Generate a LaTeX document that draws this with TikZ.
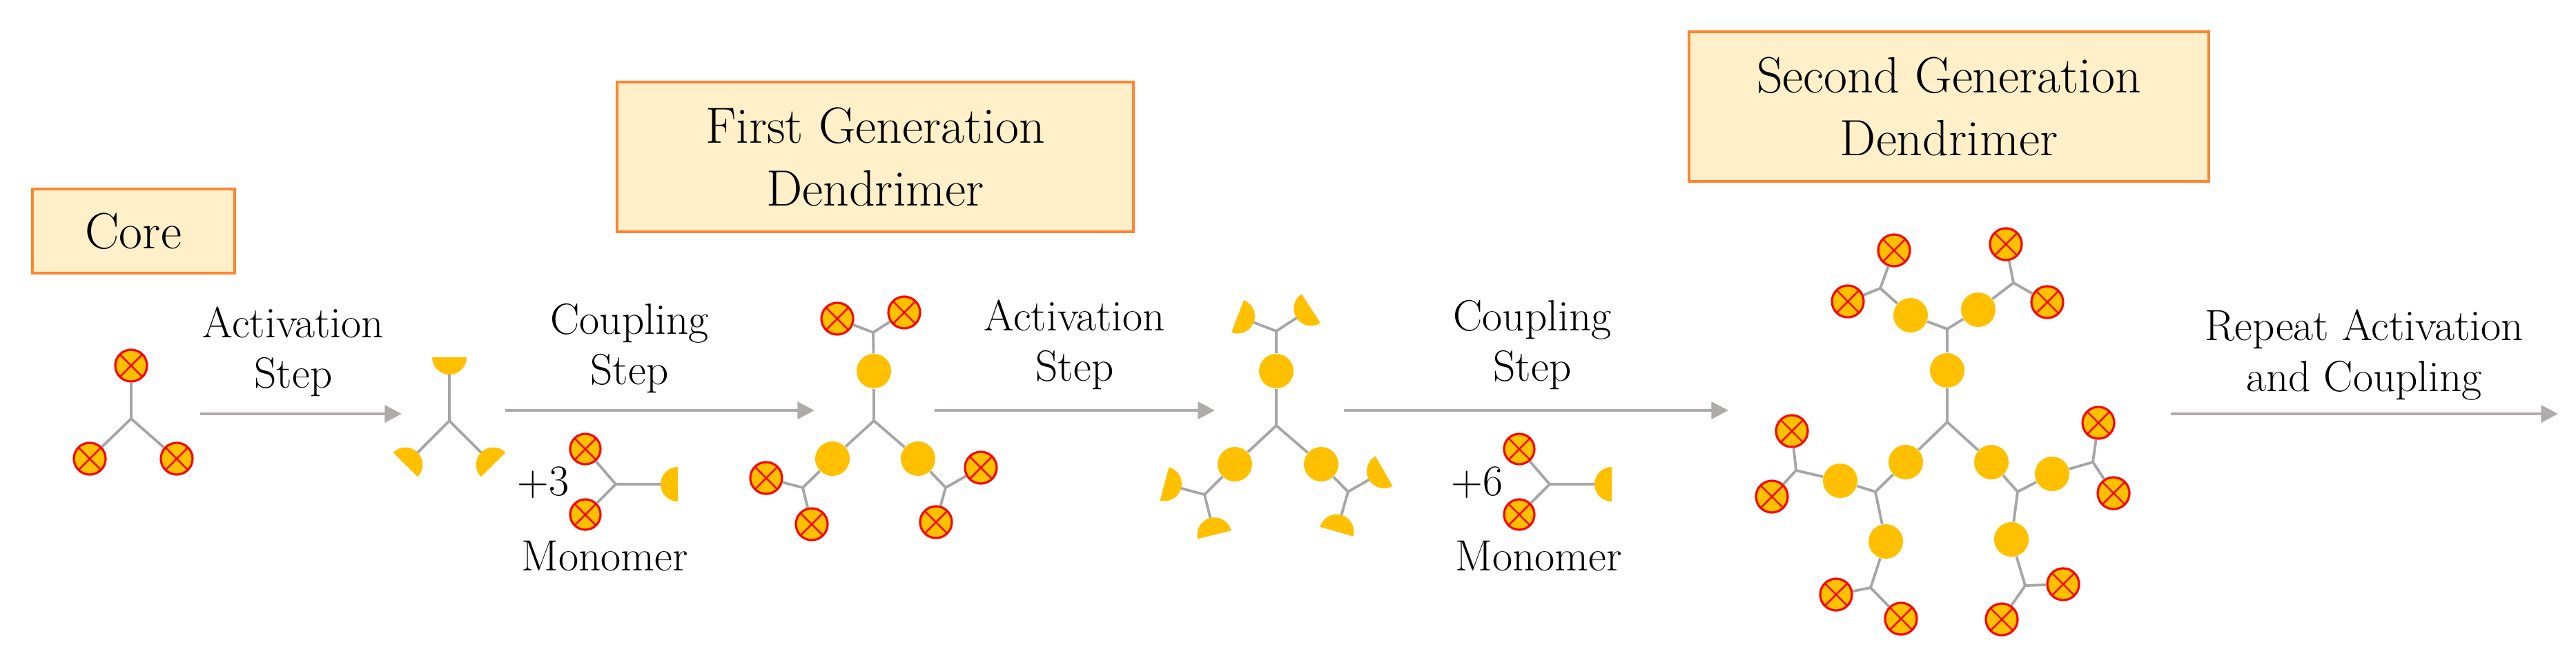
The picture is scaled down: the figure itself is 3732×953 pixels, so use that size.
\documentclass[tikz,border=0pt]{standalone}
\usepackage{tikz}
\usetikzlibrary{positioning, arrows.meta, calc}

\definecolor{gold}{HTML}{FFC000}
\definecolor{bondgray}{HTML}{A6A6A6}
\definecolor{arrowgray}{HTML}{AFABAB}
\definecolor{boxfill}{HTML}{FFF0C9}
\definecolor{boxorange}{HTML}{FF8533}

% half disc, flat side facing away from the bond
\newcommand{\cupat}[2]{\fill[gold] (#1) ++(#2+90:25) arc[start angle=#2+90, end angle=#2+270, radius=25] -- cycle;}

\begin{document}
\begin{tikzpicture}[
    x=0.01cm, y=-0.01cm,
    bond/.style={draw=bondgray, line width=1.1pt},
    reaction/.style={draw=arrowgray, line width=1.3pt, -{Triangle[length=7pt,width=7pt]}},
    endgrp/.style={circle, fill=gold, draw=red, line width=0.9pt, minimum size=0.46cm, inner sep=0pt,
        path picture={\draw[red, line width=0.7pt]
            (path picture bounding box.north west) -- (path picture bounding box.south east)
            (path picture bounding box.north east) -- (path picture bounding box.south west);}},
    unit/.style={circle, fill=gold, minimum size=0.5cm, inner sep=0pt},
    steptext/.style={font=\fontsize{18}{21}\selectfont, align=center, inner sep=0pt},
    genbox/.style={draw=boxorange, fill=boxfill, line width=1pt, font=\fontsize{21}{26}\selectfont,
        align=center, inner sep=0pt, anchor=north west}
]
\useasboundingbox (0,0) rectangle (3732,953);

% titles
\node[genbox, minimum width=2.93cm, minimum height=1.22cm] (core) at (45,272) {Core};
\node[genbox, minimum width=7.48cm, minimum height=2.17cm] (gen1) at (892,117) {First Generation\\Dendrimer};
\node[genbox, minimum width=7.53cm, minimum height=2.17cm] (gen2) at (2445,44) {Second Generation\\Dendrimer};

% core
\coordinate (c0) at (190,607);
\node[endgrp] (c1) at (190,530) {};
\node[endgrp] (c2) at (130,665) {};
\node[endgrp] (c3) at (256,665) {};
\foreach \n in {c1,c2,c3} \draw[bond] (c0) -- (\n);

% activated core
\coordinate (a0) at (651,610);
\coordinate (a1) at ($(a0)+(-90:92)$);
\coordinate (a2) at ($(a0)+(135:90)$);
\coordinate (a3) at ($(a0)+(45:90)$);
\foreach \n in {a1,a2,a3} \draw[bond] (a0) -- (\n);
\cupat{a1}{-90} \cupat{a2}{135} \cupat{a3}{45}

% monomers
\foreach \m/\dx/\k in {m/0/3, n/1353/6} {
    \node[steptext] (\m-k) at (787+\dx,700) {+\k};
    \coordinate (\m-j) at (892+\dx,702);
    \node[endgrp, minimum size=0.44cm] (\m-a) at (848+\dx,651) {};
    \node[endgrp, minimum size=0.44cm] (\m-b) at (848+\dx,746) {};
    \coordinate (\m-c) at (982+\dx,702);
    \draw[bond] (\m-j) -- (\m-a) (\m-j) -- (\m-b) (\m-j) -- (\m-c);
    \cupat{\m-c}{0}
    \node[steptext, anchor=base] (\m-t) at (876+\dx,827) {Monomer};
}

% first generation
\coordinate (g1j) at (1266,610);
\foreach \n/\x/\y in {g1a/1266/538, g1b/1206/665, g1c/1330/665}
    \node[unit] (\n) at (\x,\y) {};
\foreach \n/\x/\y in {g1ja/1265/482, g1jb/1163/707, g1jc/1370/707}
    \coordinate (\n) at (\x,\y);
\foreach \n/\x/\y in {g1a1/1213/462, g1a2/1310/453, g1b1/1110/693, g1b2/1176/760, g1c1/1421/678, g1c2/1356/757}
    \node[endgrp] (\n) at (\x,\y) {};
\foreach \s in {a,b,c} {
    \draw[bond] (g1j) -- (g1\s);
    \draw[bond] (g1\s) -- (g1j\s);
    \draw[bond] (g1j\s) -- (g1\s1);
    \draw[bond] (g1j\s) -- (g1\s2);
}

% activated first generation
\coordinate (h1j) at (1849,617);
\foreach \n/\x/\y in {h1a/1849/538, h1b/1789/673, h1c/1914/673}
    \node[unit] (\n) at (\x,\y) {};
\foreach \n/\x/\y in {h1ja/1849/480, h1jb/1745/717, h1jc/1953/713}
    \coordinate (\n) at (\x,\y);
\foreach \s/\p/\q in {a/201/-33, b/195/76, c/-30/106} {
    \coordinate (h1\s1) at ($(h1j\s)+(\p:60)$);
    \coordinate (h1\s2) at ($(h1j\s)+(\q:60)$);
    \draw[bond] (h1j) -- (h1\s);
    \draw[bond] (h1\s) -- (h1j\s);
    \draw[bond] (h1j\s) -- (h1\s1);
    \draw[bond] (h1j\s) -- (h1\s2);
    \cupat{h1\s1}{\p} \cupat{h1\s2}{\q}
}

% second generation
\coordinate (g2j) at (2821,612);
\foreach \n/\x/\y in {g2t/2821/537, g2l/2761/670, g2r/2885/670,
        g2t1/2768/457, g2t2/2866/449, g2l1/2666/697, g2l2/2732/785, g2r1/2973/687, g2r2/2914/782}
    \node[unit] (\n) at (\x,\y) {};
\foreach \n/\x/\y in {g2jt/2821/477, g2jl/2717/713, g2jr/2923/713,
        g2jt1/2724/418, g2jt2/2917/410, g2jl1/2602/682, g2jl2/2710/852, g2jr1/3032/670, g2jr2/2934/849}
    \coordinate (\n) at (\x,\y);
\foreach \n/\x/\y in {g2t1a/2744/363, g2t1b/2677/437, g2t2a/2906/354, g2t2b/2966/438,
        g2l1a/2596/625, g2l1b/2567/720, g2l2a/2660/862, g2l2b/2754/897,
        g2r1a/3040/613, g2r1b/3062/715, g2r2a/2989/847, g2r2b/2900/898}
    \node[endgrp] (\n) at (\x,\y) {};
\foreach \s in {t,l,r} {
    \draw[bond] (g2j) -- (g2\s);
    \draw[bond] (g2\s) -- (g2j\s);
    \foreach \i in {1,2} {
        \draw[bond] (g2j\s) -- (g2\s\i);
        \draw[bond] (g2\s\i) -- (g2j\s\i);
        \draw[bond] (g2j\s\i) -- (g2\s\i a);
        \draw[bond] (g2j\s\i) -- (g2\s\i b);
    }
}

% reaction arrows
\foreach \i/\xa/\xb/\y in {1/290/582/600, 2/732/1180/595, 3/1354/1760/595, 4/1947/2504/595, 5/3145/3706/600} {
    \coordinate (r\i s) at (\xa,\y);
    \coordinate (r\i e) at (\xb,\y);
    \draw[reaction] (r\i s) -- (r\i e);
}
\node[steptext, anchor=south] (t1) at (425,576) {Activation\\Step};
\node[steptext, anchor=south] (t2) at (912,571) {Coupling\\Step};
\node[steptext, anchor=south] (t3) at (1557,566) {Activation\\Step};
\node[steptext, anchor=south] (t4) at (2220,566) {Coupling\\Step};
\node[steptext, anchor=south] (t5) at (3425,581) {Repeat Activation\\and Coupling};

\end{tikzpicture}
\end{document}
